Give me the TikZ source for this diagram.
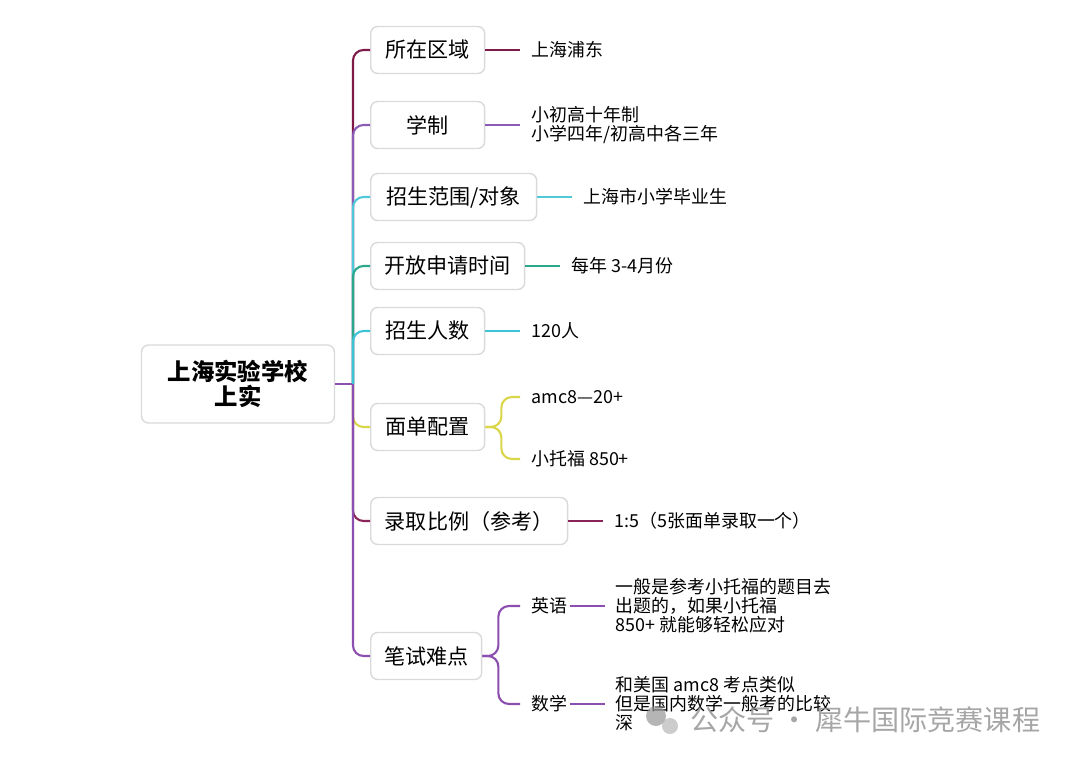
\documentclass[tikz,border=0pt]{standalone}
\usepackage{fontspec}
\setmainfont{Noto Sans CJK SC}
\usetikzlibrary{positioning}
\definecolor{brA}{RGB}{125,26,72}
\definecolor{brB}{RGB}{139,92,181}
\definecolor{brC}{RGB}{79,201,217}
\definecolor{brD}{RGB}{43,168,140}
\definecolor{brE}{RGB}{60,195,212}
\definecolor{brF}{RGB}{217,214,74}
\definecolor{brG}{RGB}{138,35,87}
\definecolor{brH}{RGB}{140,79,176}
\definecolor{boxline}{RGB}{218,218,218}
\definecolor{wmark}{RGB}{150,150,150}
\tikzset{
  rootbox/.style={draw=boxline, fill=white, rounded corners=4pt, line width=0.8pt,
                  minimum width=3.86cm, minimum height=1.56cm, align=center,
                  font=\fontsize{13.3}{13.8}\selectfont\bfseries},
  topic/.style={draw=boxline, fill=white, rounded corners=4pt, line width=0.8pt,
                minimum height=0.94cm, anchor=west, font=\fontsize{12}{14}\selectfont},
  sub/.style={inner sep=0pt, anchor=west, font=\fontsize{10.2}{10.8}\selectfont},
  leaf/.style={inner sep=0pt, align=left, font=\fontsize{10.2}{10.8}\selectfont},
  brline/.style={line width=1.2pt, rounded corners=6pt},
  tip/.style={line width=1.2pt, shorten >=0.22cm},
}
\begin{document}
\begin{tikzpicture}[x=0.02cm, y=-0.02cm]
  \useasboundingbox (0,0) rectangle (1080,765);
  % root and topics
  \node[rootbox] (root) at (238,384) {上海实验学校\\上实};
  \coordinate (hub) at (353,384);
  \node[topic, minimum width=2.28cm] (c1) at (370,50) {所在区域};
  \node[topic, minimum width=2.28cm] (c2) at (370,125) {学制};
  \node[topic, minimum width=3.32cm] (c3) at (370,197) {招生范围/对象};
  \node[topic, minimum width=3.08cm] (c4) at (370,266) {开放申请时间};
  \node[topic, minimum width=2.28cm] (c5) at (370,331) {招生人数};
  \node[topic, minimum width=2.28cm] (c6) at (370,427) {面单配置};
  \node[topic, minimum width=3.94cm] (c7) at (370,521) {录取比例（参考）};
  \node[topic, minimum width=2.22cm] (c8) at (370,656) {笔试难点};

  % spine
  \draw[brline, brH] (root.east) -- (hub);
  \draw[brline, brA] (hub) |- (c1.west);
  \draw[brline, brB] (hub) |- (c2.west);
  \draw[brline, brC] (hub) |- (c3.west);
  \draw[brline, brD] (hub) |- (c4.west);
  \draw[brline, brE] (hub) |- (c5.west);
  \draw[brline, brF] (hub) |- (c6.west);
  \draw[brline, brG] (hub) |- (c7.west);
  \draw[brline, brH] (hub) |- (c8.west);

  % leaves
  \node[leaf, right=0.92cm of c1] (l1) {上海浦东};
  \node[leaf, right=0.92cm of c2] (l2) {小初高十年制\\小学四年/初高中各三年};
  \node[leaf, right=0.92cm of c3] (l3) {上海市小学毕业生};
  \node[leaf, right=0.92cm of c4] (l4) {每年 3-4月份};
  \node[leaf, right=0.92cm of c5] (l5) {120人};
  \node[leaf, right=0.92cm of c7] (l7) {1:5（5张面单录取一个）};
  \draw[tip, brA] (c1.east) -- (l1.west);
  \draw[tip, brB] (c2.east) -- (l2.west);
  \draw[tip, brC] (c3.east) -- (l3.west);
  \draw[tip, brD] (c4.east) -- (l4.west);
  \draw[tip, brE] (c5.east) -- (l5.west);
  \draw[tip, brG] (c7.east) -- (l7.west);

  % bracket under 面单配置
  \node[sub] (s6a) at (531,397) {amc8—20+};
  \node[sub] (s6b) at (531,459) {小托福 850+};
  \draw[brline, brF, shorten >=0.22cm] (c6.east) -- ++(16,0) |- (s6a.west);
  \draw[brline, brF, shorten >=0.22cm] (c6.east) -- ++(16,0) |- (s6b.west);

  % bracket under 笔试难点
  \node[sub] (s8a) at (531,606) {英语};
  \node[sub] (s8b) at (531,704) {数学};
  \draw[brline, brH, shorten >=0.22cm] (c8.east) -- ++(16,0) |- (s8a.west);
  \draw[brline, brH, shorten >=0.22cm] (c8.east) -- ++(16,0) |- (s8b.west);
  \node[leaf, right=0.96cm of s8a] (l8a) {一般是参考小托福的题目去\\出题的，如果小托福\\850+ 就能够轻松应对};
  \node[leaf, right=0.96cm of s8b] (l8b) {和美国 amc8 考点类似\\但是国内数学一般考的比较\\深};
  \draw[tip, brH, shorten <=0.04cm] (s8a.east) -- (l8a.west);
  \draw[tip, brH, shorten <=0.04cm] (s8b.east) -- (l8b.west);

  % watermark
  \fill[wmark, opacity=0.7] (656,716) circle (10);
  \fill[wmark!70, opacity=0.7] (670,726) circle (8);
  \node[anchor=west, text=wmark, opacity=0.85, font=\fontsize{16}{17}\selectfont]
    (wm) at (684,720) {公众号 · 犀牛国际竞赛课程};
\end{tikzpicture}
\end{document}
